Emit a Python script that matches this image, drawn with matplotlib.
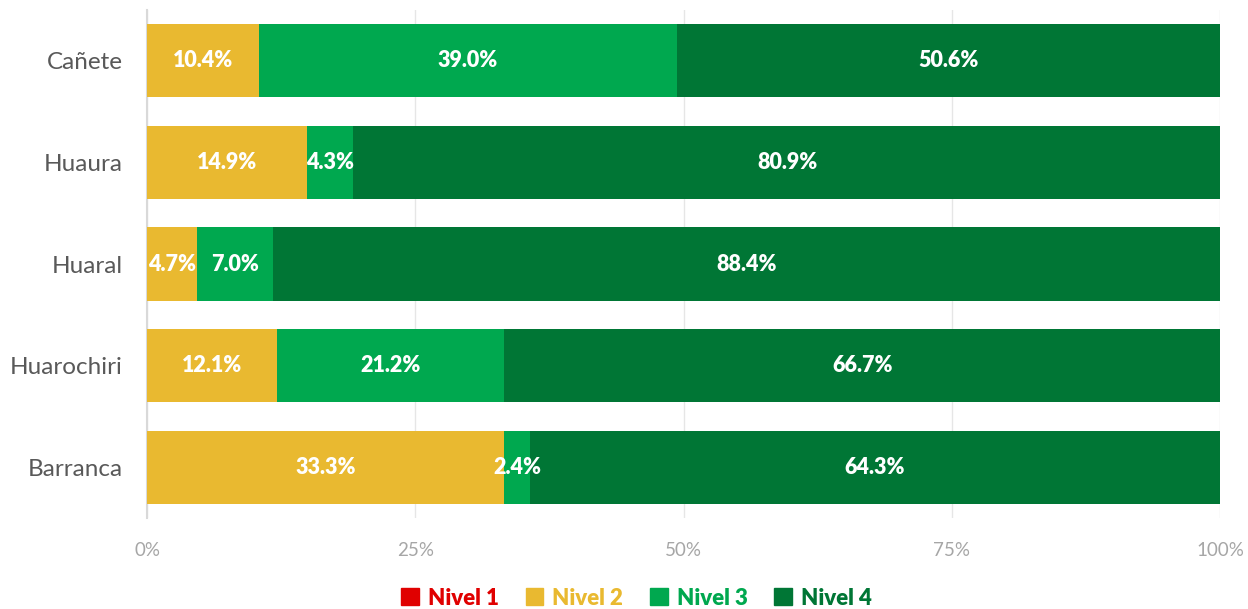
import numpy as np
import matplotlib.pyplot as plt
from matplotlib.patches import Patch

# data (percentages)
provinces = ["Cañete", "Huaura", "Huaral", "Huarochiri", "Barranca"]
levels = ["Nivel 1", "Nivel 2", "Nivel 3", "Nivel 4"]
nivel1 = [0.0, 0.0, 0.0, 0.0, 0.0]
nivel2 = [10.4, 14.9, 4.7, 12.1, 33.3]
nivel3 = [39.0, 4.3, 7.0, 21.2, 2.4]
nivel4 = [50.6, 80.9, 88.4, 66.7, 64.3]
xticks = [0, 25, 50, 75, 100]

colors = ["#E00000", "#E9B930", "#00A84F", "#007635"]

plt.rcParams['font.family'] = ['Lato', 'DejaVu Sans']

fig = plt.figure(figsize=(12.48, 6.09), dpi=100)
ax = fig.add_axes([0.1178, 0.1494, 0.8598, 0.8342])

y = np.arange(len(provinces))
left = np.zeros(len(provinces))
series = [nivel1, nivel2, nivel3, nivel4]
for vals, col in zip(series, colors):
    vals = np.array(vals)
    ax.barh(y, vals, left=left, height=0.72, color=col, zorder=3)
    for yi, (l, v) in enumerate(zip(left, vals)):
        if v > 0:
            ax.text(l + v / 2, yi, f"{v:.1f}%", ha="center", va="center",
                    color="white", fontsize=15.5, fontweight="heavy", zorder=4)
    left = left + vals

ax.set_xlim(0, 100)
ax.set_ylim(len(provinces) - 0.5, -0.5)
ax.set_yticks(y)
ax.set_yticklabels(provinces, fontsize=17.5, color="#595959")
ax.set_xticks(xticks)
ax.set_xticklabels([f"{t}%" for t in xticks], fontsize=13.5, color="#A6A6A6")
ax.tick_params(length=0)
ax.tick_params(axis="x", pad=17)
ax.tick_params(axis="y", pad=17.5)

ax.grid(axis="x", color="#E6E6E6", linewidth=1, zorder=0)
for s in ["top", "right", "bottom"]:
    ax.spines[s].set_visible(False)
ax.spines["left"].set_color("#D9D9D9")
ax.spines["left"].set_linewidth(1.5)

handles = [Patch(color=c) for c in colors]
leg = fig.legend(handles, levels, loc="center", bbox_to_anchor=(0.51, 0.018),
                 ncol=4, frameon=False, handlelength=0.8, handleheight=0.8,
                 handletextpad=0.4, columnspacing=1.2,
                 prop={"size": 16, "weight": "heavy"})
for txt, c in zip(leg.get_texts(), colors):
    txt.set_color(c)

fig.savefig("out.png", dpi=100)
